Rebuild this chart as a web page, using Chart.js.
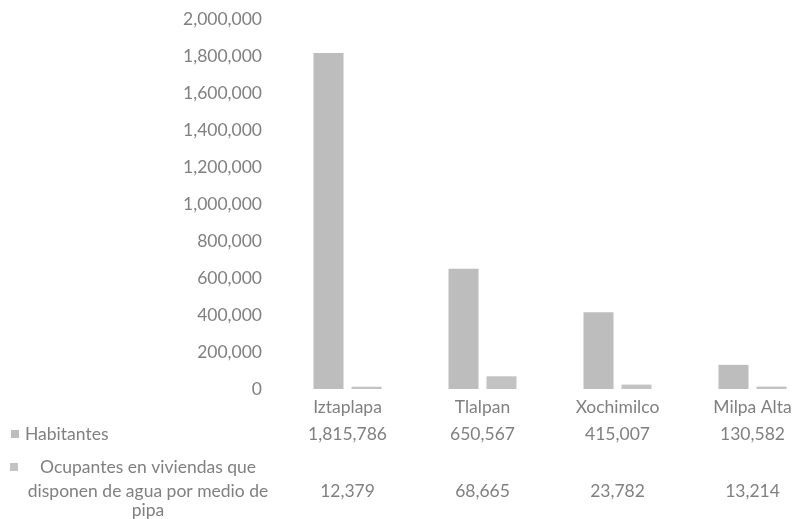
<!DOCTYPE html>
<html lang="es">
<head>
<meta charset="utf-8">
<title>Habitantes y ocupantes con agua por pipa</title>
<script src="https://cdn.jsdelivr.net/npm/chart.js@4.4.1/dist/chart.umd.min.js"></script>
<style>
  html, body { margin: 0; padding: 0; background: #fff; overflow: hidden; }
  #wrap { position: relative; width: 820px; height: 519px; }
</style>
</head>
<body>
<div id="wrap"><canvas id="myChart" width="820" height="519"></canvas></div>
<script>
// delegaciones
const alcaldias = ["Iztaplapa", "Tlalpan", "Xochimilco", "Milpa Alta"];
// habitantes por delegación
const habitantes = [1815786, 650567, 415007, 130582];
// ocupantes en viviendas que disponen de agua por medio de pipa
const ocupantesPipa = [12379, 68665, 23782, 13214];
// nombres de las series (la segunda va en tres renglones)
const serieHabitantes = "Habitantes";
const serieOcupantes = ["Ocupantes en viviendas que", "disponen de agua por medio de", "pipa"];

const gris = "#808080";
const fuente = "Lato";
const tam = 17.5;
const colores = ["#bdbdbd", "#c3c3c3"];

const fmt = (v) => v.toLocaleString("en-US");

// tabla de datos debajo del eje x
const tablaDatos = {
  id: "tablaDatos",
  afterDraw(chart) {
    const ctx = chart.ctx;
    const x = chart.scales.x;
    ctx.save();
    ctx.font = tam + "px " + fuente;
    ctx.textBaseline = "middle";

    // renglón 1
    ctx.fillStyle = colores[0];
    ctx.fillRect(11, 430, 8, 8);
    ctx.fillStyle = gris;
    ctx.textAlign = "left";
    ctx.fillText(serieHabitantes, 25, 434);

    // renglón 2
    ctx.fillStyle = colores[1];
    ctx.fillRect(10, 463, 8, 8);
    ctx.fillStyle = gris;
    ctx.textAlign = "center";
    ctx.fillText(serieOcupantes[0], 148, 467);
    ctx.fillText(serieOcupantes[1], 148, 491);
    ctx.fillText(serieOcupantes[2], 148, 510);

    alcaldias.forEach((a, i) => {
      const cx = x.getPixelForValue(i);
      ctx.fillText(fmt(habitantes[i]), cx, 434);
      ctx.fillText(fmt(ocupantesPipa[i]), cx, 491);
    });
    ctx.restore();
  },
};

const ctx = document.getElementById("myChart").getContext("2d");
const chart = new Chart(ctx, {
  type: "bar",
  data: {
    labels: alcaldias,
    datasets: [
      {
        label: serieHabitantes,
        data: habitantes,
        backgroundColor: colores[0],
        barPercentage: 0.79,
        categoryPercentage: 0.563,
      },
      {
        label: serieOcupantes.join(" "),
        data: ocupantesPipa,
        backgroundColor: colores[1],
        barPercentage: 0.79,
        categoryPercentage: 0.563,
      },
    ],
  },
  options: {
    responsive: false,
    animation: false,
    layout: { padding: { top: 19, left: 0, right: 0, bottom: 0 } },
    plugins: {
      legend: { display: false },
      tooltip: { enabled: false },
    },
    scales: {
      x: {
        grid: { display: false },
        border: { display: false },
        ticks: {
          color: gris,
          font: { family: fuente, size: tam },
          padding: 0,
        },
        afterFit: (scale) => {
          scale.height = 130;
        },
      },
      y: {
        min: 0,
        max: 2000000,
        grid: { display: false, drawTicks: false },
        border: { display: false },
        ticks: {
          stepSize: 200000,
          color: gris,
          font: { family: fuente, size: tam },
          padding: 18,
          callback: (v) => fmt(v),
        },
        afterFit: (scale) => {
          scale.width = 280;
          // el padding de las etiquetas no debe empujar el área hacia abajo
          scale.paddingTop = 10;
          scale.paddingBottom = 10;
        },
      },
    },
  },
  plugins: [tablaDatos],
});
</script>
</body>
</html>
